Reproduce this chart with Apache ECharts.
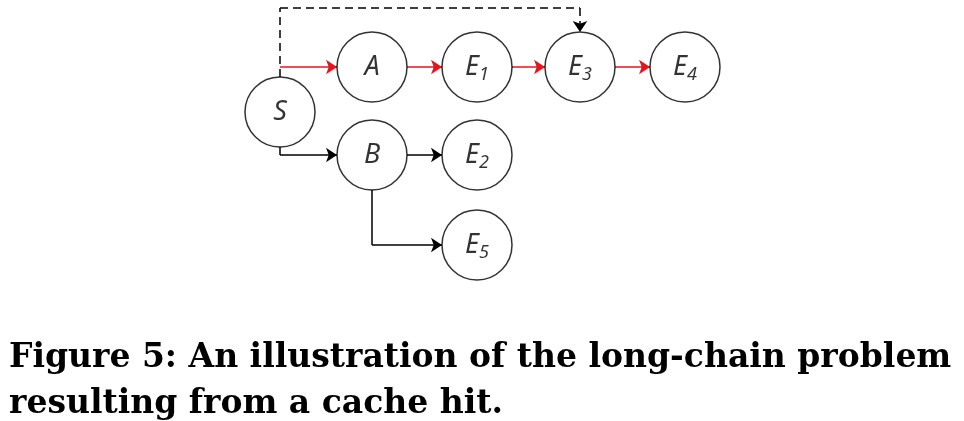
<!DOCTYPE html>
<html>
<head>
<meta charset="utf-8">
<script src="https://cdn.jsdelivr.net/npm/echarts@6/dist/echarts.min.js"></script>
<style>html,body{margin:0;padding:0;background:#fff}#main{width:964px;height:421px}</style>
</head>
<body>
<div id="main"></div>
<script>
// node names, labels and centers (diagram units)
var nodeNames = ['S', 'A', 'E1', 'E3', 'E4', 'B', 'E2', 'E5'];
var nodeLabels = ['{n|S}', '{n|A}', '{n|E}{s|1}', '{n|E}{s|3}', '{n|E}{s|4}', '{n|B}', '{n|E}{s|2}', '{n|E}{s|5}'];
var nodeX = [280, 372, 477, 580, 685, 372, 477, 477];
var nodeY = [112, 67, 67, 67, 67, 155, 155, 245];
var R = 35;

// edges: polyline paths, arrow at the end
var redEdges = [
  [[280, 67], [337, 67]],
  [[407, 67], [442, 67]],
  [[512, 67], [545, 67]],
  [[615, 67], [650, 67]]
];
var blackEdges = [
  [[280, 147], [280, 155], [337, 155]],
  [[407, 155], [442, 155]],
  [[372, 190], [372, 245], [442, 245]]
];
var dashedEdges = [
  [[280, 77], [280, 8], [580, 8], [580, 32]]
];

var nodeData = nodeNames.map(function (n, i) {
  return { name: n, value: [nodeX[i], nodeY[i]], label: { formatter: nodeLabels[i] } };
});

function edgeSeries(paths, color, dashed) {
  var data = [];
  paths.forEach(function (p) {
    for (var i = 0; i < p.length - 1; i++) {
      var last = i == p.length - 2;
      data.push({ coords: [p[i], p[i + 1]], symbol: last ? ['none', 'arrow'] : ['none', 'none'] });
    }
  });
  return {
    type: 'lines', coordinateSystem: 'cartesian2d', z: 1,
    symbol: ['none', 'arrow'], symbolSize: 11,
    lineStyle: { color: color, width: 1.5, type: dashed ? [8, 5] : 'solid', opacity: 1 },
    data: data
  };
}

var myChart = echarts.init(document.getElementById('main'));
var option = {
  animation: false,
  grid: { left: 0, top: 0, width: 964, height: 421 },
  xAxis: { type: 'value', min: 0, max: 964, show: false },
  yAxis: { type: 'value', min: 0, max: 421, inverse: true, show: false },
  title: {
    text: 'Figure 5: An illustration of the long-chain problem\nresulting from a cache hit.',
    left: 4, top: 330,
    textStyle: { fontFamily: 'DejaVu Serif', fontWeight: 'bold', fontSize: 33, lineHeight: 46, color: '#000' }
  },
  series: [
    edgeSeries(redEdges, '#e8141b', false),
    edgeSeries(blackEdges, '#000', false),
    edgeSeries(dashedEdges, '#000', true),
    {
      type: 'scatter', z: 3, symbol: 'circle', symbolSize: R * 2,
      itemStyle: { color: '#fff', borderColor: '#000', borderWidth: 1.5 },
      label: {
        show: true, position: 'inside', color: '#000',
        rich: {
          n: { fontFamily: 'Noto Sans', fontStyle: 'italic', fontSize: 27, color: '#000' },
          s: { fontFamily: 'Noto Sans', fontStyle: 'italic', fontSize: 18, padding: [16, 0, 0, 0], color: '#000' }
        }
      },
      data: nodeData
    }
  ]
};
myChart.setOption(option);
</script>
</body>
</html>
